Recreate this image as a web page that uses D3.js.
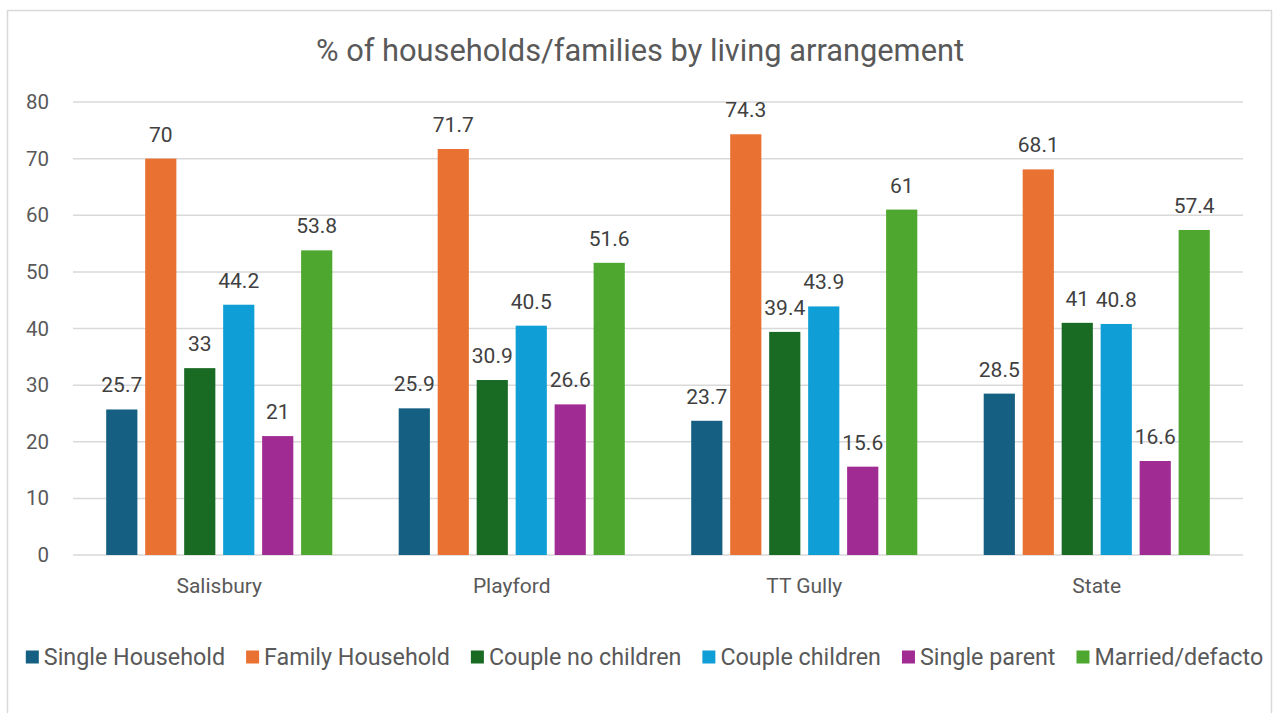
<!DOCTYPE html>
<html>
<head>
<meta charset="utf-8">
<script src="https://cdn.jsdelivr.net/npm/d3@7"></script>
<style>
  html, body { margin: 0; padding: 0; background: #fff; }
  svg { display: block; }
  text { font-family: Roboto, "Liberation Sans", sans-serif; }
</style>
</head>
<body>
<svg id="chart" width="1276" height="713"></svg>
<script>
// Areas compared
const categories = ["Salisbury", "Playford", "TT Gully", "State"];

// Living-arrangement series (percent), one value per area
const seriesNames = ["Single Household", "Family Household", "Couple no children",
                     "Couple children", "Single parent", "Married/defacto"];
const singleHousehold  = [25.7, 25.9, 23.7, 28.5];
const familyHousehold  = [70, 71.7, 74.3, 68.1];
const coupleNoChildren = [33, 30.9, 39.4, 41];
const coupleChildren   = [44.2, 40.5, 43.9, 40.8];
const singleParent     = [21, 26.6, 15.6, 16.6];
const marriedDefacto   = [53.8, 51.6, 61, 57.4];
const seriesColors = ["#156082", "#E97132", "#196B24", "#0F9ED5", "#A02B93", "#4EA72E"];

const yTicks = [0, 10, 20, 30, 40, 50, 60, 70, 80];
const title = "% of households/families by living arrangement";

const seriesValues = [singleHousehold, familyHousehold, coupleNoChildren,
                      coupleChildren, singleParent, marriedDefacto];

const svg = d3.select("#chart");

// Chart frame
svg.append("rect")
  .attr("x", 7.5).attr("y", 10.5)
  .attr("width", 1264).attr("height", 720)
  .attr("fill", "#fff")
  .attr("stroke", "#d9d9d9").attr("stroke-width", 1.5);

// Title
svg.append("text")
  .attr("x", 640).attr("y", 61)
  .attr("text-anchor", "middle")
  .attr("font-size", 30.8)
  .attr("fill", "#595959")
  .text(title);

const plot = { left: 73, right: 1243, top: 102, bottom: 555 };

const y = d3.scaleLinear().domain([0, 80]).range([plot.bottom, plot.top]);
const x0 = d3.scaleBand().domain(categories)
  .range([plot.left, plot.right])
  .paddingInner(0.227).paddingOuter(0.1135);
const x1 = d3.scaleBand().domain(seriesNames)
  .range([0, x0.bandwidth()])
  .paddingInner(0.2);

// Gridlines
svg.append("g")
  .selectAll("line")
  .data(yTicks)
  .join("line")
  .attr("x1", plot.left).attr("x2", plot.right)
  .attr("y1", d => y(d)).attr("y2", d => y(d))
  .attr("stroke", "#d9d9d9").attr("stroke-width", 1.5);

// Y axis labels
const yAxis = svg.append("g")
  .attr("transform", `translate(${plot.left - 24},0)`)
  .call(d3.axisLeft(y).tickValues(yTicks).tickSize(0).tickPadding(0));
yAxis.select(".domain").remove();
yAxis.selectAll("text")
  .attr("font-size", 20.5)
  .attr("fill", "#595959")
  .attr("font-family", "Roboto, sans-serif");

// X axis labels
const xAxis = svg.append("g")
  .attr("transform", `translate(0,${plot.bottom})`)
  .call(d3.axisBottom(x0).tickSize(0).tickPadding(0));
xAxis.select(".domain").remove();
xAxis.selectAll("text")
  .attr("dy", 0).attr("y", 38)
  .attr("font-size", 21)
  .attr("fill", "#595959")
  .attr("font-family", "Roboto, sans-serif");

// Bars and value labels
const rows = [];
categories.forEach((c, ci) => {
  seriesNames.forEach((s, si) => {
    rows.push({ category: c, series: s, value: seriesValues[si][ci], color: seriesColors[si] });
  });
});

const groups = svg.append("g");
groups.selectAll("rect")
  .data(rows)
  .join("rect")
  .attr("x", d => x0(d.category) + x1(d.series))
  .attr("y", d => y(d.value))
  .attr("width", x1.bandwidth())
  .attr("height", d => y(0) - y(d.value))
  .attr("fill", d => d.color);

groups.selectAll("text")
  .data(rows)
  .join("text")
  .attr("x", d => x0(d.category) + x1(d.series) + x1.bandwidth() / 2)
  .attr("y", d => y(d.value) - 17)
  .attr("text-anchor", "middle")
  .attr("font-size", 21)
  .attr("fill", "#404040")
  .text(d => d.value);

// Legend
const legend = svg.append("g").attr("transform", "translate(0,657)");
const items = legend.selectAll("g")
  .data(seriesNames)
  .join("g");
items.append("rect")
  .attr("width", 13).attr("height", 13)
  .attr("y", -6.5)
  .attr("fill", (d, i) => seriesColors[i]);
items.append("text")
  .attr("x", 18)
  .attr("y", 8)
  .attr("font-size", 23.3)
  .attr("fill", "#595959")
  .text(d => d);

let cursor = 0;
const offsets = [];
items.each(function () {
  offsets.push(cursor);
  const w = this.querySelector("text").getComputedTextLength();
  cursor += 18 + w + 21;
});
const total = cursor - 21;
const startX = 644.5 - total / 2;
items.attr("transform", (d, i) => `translate(${startX + offsets[i]},0)`);
</script>
</body>
</html>
